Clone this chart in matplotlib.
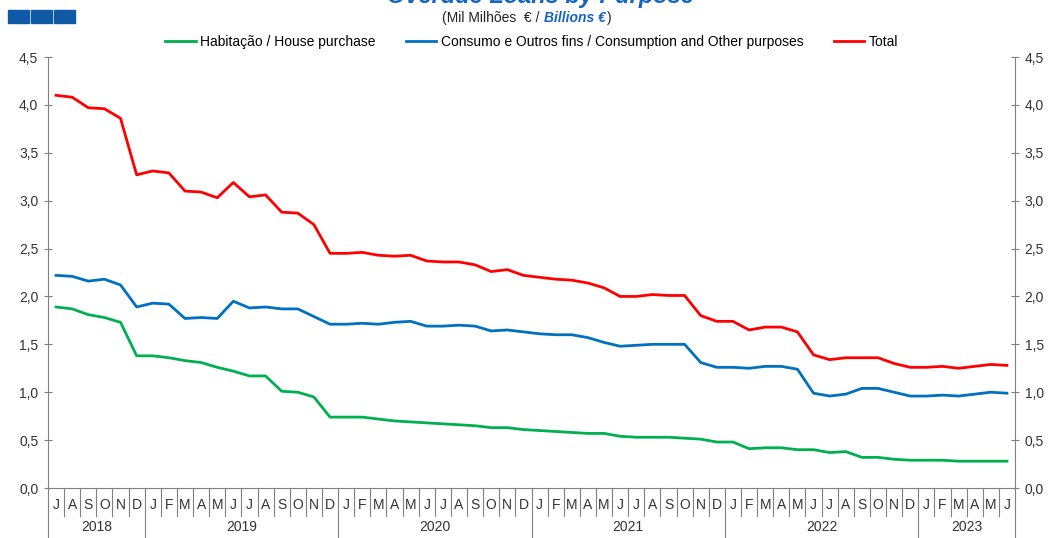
import matplotlib.pyplot as plt
from matplotlib.patches import Rectangle

plt.rcParams['font.family'] = ['Liberation Sans', 'DejaVu Sans']

# Monthly data, Jul 2018 - Jun 2023 (mil milhoes EUR)
months = ['J', 'A', 'S', 'O', 'N', 'D'] + ['J', 'F', 'M', 'A', 'M', 'J', 'J', 'A', 'S', 'O', 'N', 'D'] * 4 \
    + ['J', 'F', 'M', 'A', 'M', 'J']
years = ['2018', '2019', '2020', '2021', '2022', '2023']
year_lengths = [6, 12, 12, 12, 12, 6]

habitacao = [1.89, 1.87, 1.81, 1.78, 1.73, 1.38,
             1.38, 1.36, 1.33, 1.31, 1.26, 1.22, 1.17, 1.17, 1.01, 1.00, 0.95, 0.74,
             0.74, 0.74, 0.72, 0.70, 0.69, 0.68, 0.67, 0.66, 0.65, 0.63, 0.63, 0.61,
             0.60, 0.59, 0.58, 0.57, 0.57, 0.54, 0.53, 0.53, 0.53, 0.52, 0.51, 0.48,
             0.48, 0.41, 0.42, 0.42, 0.40, 0.40, 0.37, 0.38, 0.32, 0.32, 0.30, 0.29,
             0.29, 0.29, 0.28, 0.28, 0.28, 0.28]
consumo = [2.22, 2.21, 2.16, 2.18, 2.12, 1.89,
           1.93, 1.92, 1.77, 1.78, 1.77, 1.95, 1.88, 1.89, 1.87, 1.87, 1.79, 1.71,
           1.71, 1.72, 1.71, 1.73, 1.74, 1.69, 1.69, 1.70, 1.69, 1.64, 1.65, 1.63,
           1.61, 1.60, 1.60, 1.57, 1.52, 1.48, 1.49, 1.50, 1.50, 1.50, 1.31, 1.26,
           1.26, 1.25, 1.27, 1.27, 1.24, 0.99, 0.96, 0.98, 1.04, 1.04, 1.00, 0.96,
           0.96, 0.97, 0.96, 0.98, 1.00, 0.99]
total = [4.10, 4.08, 3.97, 3.96, 3.86, 3.27,
         3.31, 3.29, 3.10, 3.09, 3.03, 3.19, 3.04, 3.06, 2.88, 2.87, 2.75, 2.45,
         2.45, 2.46, 2.43, 2.42, 2.43, 2.37, 2.36, 2.36, 2.33, 2.26, 2.28, 2.22,
         2.20, 2.18, 2.17, 2.14, 2.09, 2.00, 2.00, 2.02, 2.01, 2.01, 1.80, 1.74,
         1.74, 1.65, 1.68, 1.68, 1.63, 1.39, 1.34, 1.36, 1.36, 1.36, 1.30, 1.26,
         1.26, 1.27, 1.25, 1.27, 1.29, 1.28]

W, H = 1049, 538
fig = plt.figure(figsize=(W / 100, H / 100), dpi=100)
ax = fig.add_axes([48 / W, 1 - 488 / H, (1015 - 48) / W, (488 - 57) / H])

x = list(range(len(months)))
ax.plot(x, habitacao, color='#00B050', lw=2.0, label='Habitação / House purchase')
ax.plot(x, consumo, color='#0070C0', lw=2.0, label='Consumo e Outros fins / Consumption and Other purposes')
ax.plot(x, total, color='#FF0000', lw=2.0, label='Total')

ax.set_xlim(-0.5, len(months) - 0.5)
ax.set_ylim(0, 4.5)
yt = [i * 0.5 for i in range(10)]
ylab = [f'{v:.1f}'.replace('.', ',') for v in yt]
ax.set_yticks(yt)
ax.set_yticklabels(ylab)
ax.tick_params(axis='y', direction='inout', length=6, color='#808080', labelsize=10,
               labelcolor='#333333', pad=4)
ax.set_xticks([])

ax2 = ax.twinx()
ax2.set_ylim(0, 4.5)
ax2.set_yticks(yt)
ax2.set_yticklabels(ylab)
ax2.tick_params(axis='y', direction='inout', length=6, color='#808080', labelsize=10,
                labelcolor='#333333', pad=4)

for a in (ax, ax2):
    a.spines['top'].set_visible(False)
    for s in ('left', 'right', 'bottom'):
        a.spines[s].set_color('#808080')
ax.spines['right'].set_visible(False)
ax2.spines['left'].set_visible(False)
ax2.spines['bottom'].set_visible(False)

# month / year category axis
trans = ax.get_xaxis_transform()
ah = 488 - 57
for i, m in enumerate(months):
    ax.text(i, -(505 - 488) / ah, m, transform=trans, ha='center', va='center',
            fontsize=10, color='#333333')
bounds = [-0.5]
for n in year_lengths:
    bounds.append(bounds[-1] + n)
year_bounds = set(bounds)
for k in range(len(months) + 1):
    b = k - 0.5
    low = -(538 - 488) / ah if b in year_bounds else -(516 - 488) / ah
    ax.plot([b, b], [0, low], transform=trans, color='#808080', lw=0.8, clip_on=False)
for yname, a, b in zip(years, bounds[:-1], bounds[1:]):
    ax.text((a + b) / 2, -(527 - 488) / ah, yname, transform=trans, ha='center', va='center',
            fontsize=10, color='#333333')

ax.legend(loc='center', bbox_to_anchor=(0.5, 1 + (57 - 42) / ah), ncol=3, frameon=False,
          fontsize=10, handlelength=2.2, columnspacing=2.2, handletextpad=0.3)

# header
fig.text(540 / W, 1 - (-3) / H, 'Overdue Loans by Purpose', ha='center', va='center',
         fontsize=17, fontweight='bold', fontstyle='italic', color='#1565C0')

fig.canvas.draw()
r = fig.canvas.get_renderer()
parts = [('(Mil Milhões  € / ', 'normal', 'normal', '#222222'),
         ('Billions €', 'bold', 'italic', '#1565C0'),
         (')', 'normal', 'normal', '#222222')]
xpos = 442
for s, fw, fs, c in parts:
    t = fig.text(xpos / W, 1 - 18 / H, s, ha='left', va='center', fontsize=10,
                 fontweight=fw, fontstyle=fs, color=c)
    xpos += t.get_window_extent(r).width + 1

for x0 in (8, 31, 54):
    fig.patches.append(Rectangle((x0 / W, 1 - 23 / H), 21 / W, 13 / H,
                                 transform=fig.transFigure, color='#0F5AA5'))

fig.savefig('out.png', dpi=100)
